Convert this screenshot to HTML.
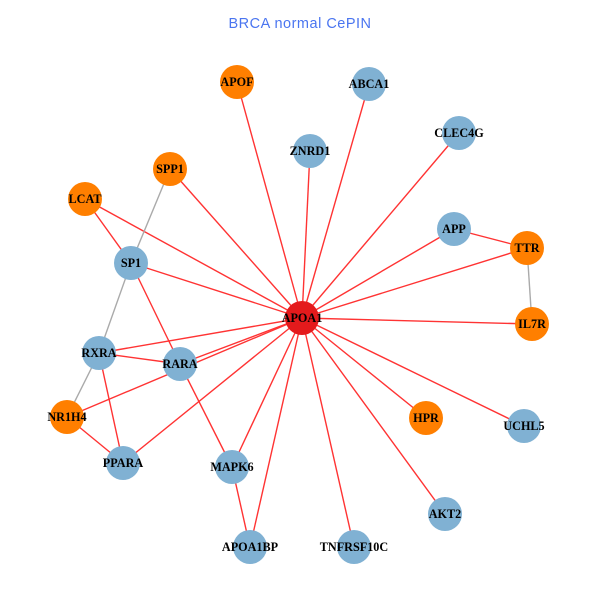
<!DOCTYPE html>
<html><head><meta charset="utf-8"><style>
html,body{margin:0;padding:0;background:#fff;}
svg{display:block;}
.t{font-family:"Liberation Serif",serif;font-weight:bold;font-size:12.2px;fill:#000;text-anchor:middle;dominant-baseline:central;}
</style></head><body>
<svg width="600" height="600" viewBox="0 0 600 600" xmlns="http://www.w3.org/2000/svg">
<rect width="600" height="600" fill="#fff"/>
<text x="300" y="28" font-family="Liberation Sans, sans-serif" font-size="14.5" letter-spacing="0.5" fill="#4a75f0" text-anchor="middle">BRCA normal CePIN</text>
<g stroke="#ff3333" stroke-width="1.4" fill="none">
<line x1="302" y1="318" x2="237" y2="82"/>
<line x1="302" y1="318" x2="369" y2="84"/>
<line x1="302" y1="318" x2="310" y2="151"/>
<line x1="302" y1="318" x2="459" y2="133"/>
<line x1="302" y1="318" x2="454" y2="229"/>
<line x1="302" y1="318" x2="527" y2="248"/>
<line x1="302" y1="318" x2="532" y2="324"/>
<line x1="302" y1="318" x2="524" y2="426"/>
<line x1="302" y1="318" x2="426" y2="418"/>
<line x1="302" y1="318" x2="445" y2="514"/>
<line x1="302" y1="318" x2="354" y2="547"/>
<line x1="302" y1="318" x2="250" y2="547"/>
<line x1="302" y1="318" x2="232" y2="467"/>
<line x1="302" y1="318" x2="123" y2="463"/>
<line x1="302" y1="318" x2="67" y2="417"/>
<line x1="302" y1="318" x2="180" y2="364"/>
<line x1="302" y1="318" x2="99" y2="353"/>
<line x1="302" y1="318" x2="131" y2="263"/>
<line x1="302" y1="318" x2="85" y2="199"/>
<line x1="302" y1="318" x2="170" y2="169"/>
<line x1="85" y1="199" x2="131" y2="263"/>
<line x1="131" y1="263" x2="180" y2="364"/>
<line x1="99" y1="353" x2="180" y2="364"/>
<line x1="99" y1="353" x2="123" y2="463"/>
<line x1="67" y1="417" x2="123" y2="463"/>
<line x1="180" y1="364" x2="232" y2="467"/>
<line x1="232" y1="467" x2="250" y2="547"/>
<line x1="454" y1="229" x2="527" y2="248"/>
</g>
<g stroke="#aaaaaa" stroke-width="1.4" fill="none">
<line x1="170" y1="169" x2="131" y2="263"/>
<line x1="131" y1="263" x2="99" y2="353"/>
<line x1="99" y1="353" x2="67" y2="417"/>
<line x1="527" y1="248" x2="532" y2="324"/>
</g>
<g>
<circle cx="237" cy="82" r="17" fill="#ff7f00"/>
<circle cx="170" cy="169" r="17" fill="#ff7f00"/>
<circle cx="85" cy="199" r="17" fill="#ff7f00"/>
<circle cx="131" cy="263" r="17" fill="#80b1d3"/>
<circle cx="369" cy="84" r="17" fill="#80b1d3"/>
<circle cx="459" cy="133" r="17" fill="#80b1d3"/>
<circle cx="310" cy="151" r="17" fill="#80b1d3"/>
<circle cx="454" cy="229" r="17" fill="#80b1d3"/>
<circle cx="527" cy="248" r="17" fill="#ff7f00"/>
<circle cx="99" cy="353" r="17" fill="#80b1d3"/>
<circle cx="180" cy="364" r="17" fill="#80b1d3"/>
<circle cx="67" cy="417" r="17" fill="#ff7f00"/>
<circle cx="123" cy="463" r="17" fill="#80b1d3"/>
<circle cx="232" cy="467" r="17" fill="#80b1d3"/>
<circle cx="250" cy="547" r="17" fill="#80b1d3"/>
<circle cx="532" cy="324" r="17" fill="#ff7f00"/>
<circle cx="426" cy="418" r="17" fill="#ff7f00"/>
<circle cx="524" cy="426" r="17" fill="#80b1d3"/>
<circle cx="445" cy="514" r="17" fill="#80b1d3"/>
<circle cx="354" cy="547" r="17" fill="#80b1d3"/>
<circle cx="302" cy="318" r="17" fill="#e41a1c"/>
</g>
<g>
<text class="t" x="237" y="82">APOF</text>
<text class="t" x="170" y="169">SPP1</text>
<text class="t" x="85" y="199">LCAT</text>
<text class="t" x="131" y="263">SP1</text>
<text class="t" x="369" y="84">ABCA1</text>
<text class="t" x="459" y="133">CLEC4G</text>
<text class="t" x="310" y="151">ZNRD1</text>
<text class="t" x="454" y="229">APP</text>
<text class="t" x="527" y="248">TTR</text>
<text class="t" x="99" y="353">RXRA</text>
<text class="t" x="180" y="364">RARA</text>
<text class="t" x="67" y="417">NR1H4</text>
<text class="t" x="123" y="463">PPARA</text>
<text class="t" x="232" y="467">MAPK6</text>
<text class="t" x="250" y="547">APOA1BP</text>
<text class="t" x="532" y="324">IL7R</text>
<text class="t" x="426" y="418">HPR</text>
<text class="t" x="524" y="426">UCHL5</text>
<text class="t" x="445" y="514">AKT2</text>
<text class="t" x="354" y="547">TNFRSF10C</text>
<text class="t" x="302" y="318">APOA1</text>
</g>
</svg>
</body></html>
